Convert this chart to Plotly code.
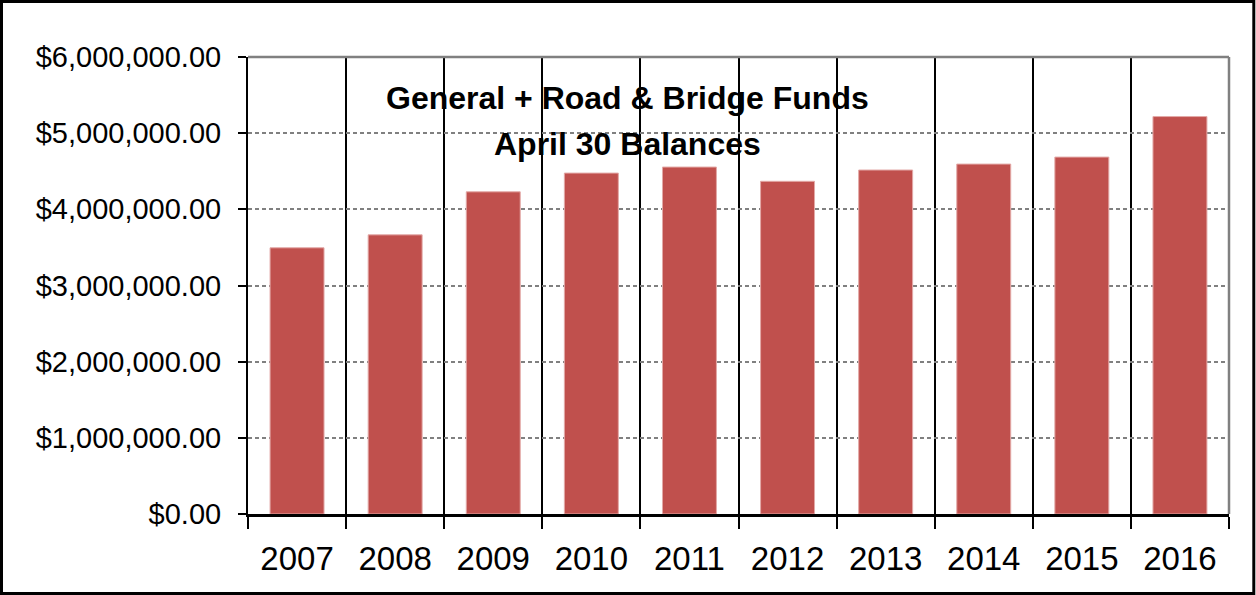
import plotly.graph_objects as go

years = ["2007", "2008", "2009", "2010", "2011", "2012", "2013", "2014", "2015", "2016"]
balances = [3495000, 3665000, 4230000, 4476000, 4555000, 4368000, 4516000, 4594000, 4686000, 5218000]
title_line1 = "General + Road & Bridge Funds"
title_line2 = "April 30 Balances"

W, H = 1256, 595
L, R, T, B = 248, 27, 57, 81
PW, PH = W - L - R, H - T - B


def px_x(p):
    return (p - L) / PW


def px_y(p):
    return (H - B - p) / PH


fig = go.Figure()
fig.add_trace(go.Bar(
    x=years, y=balances,
    marker=dict(color="#C0504D", line=dict(color="#E3A9A7", width=1)),
    hoverinfo="x+y",
))

font_family = "Liberation Sans, Arial, sans-serif"

fig.update_layout(
    width=W, height=H,
    margin=dict(l=L, r=R, t=T, b=B, pad=0),
    paper_bgcolor="white", plot_bgcolor="white",
    bargap=0.45,
    showlegend=False,
    font=dict(family=font_family, color="black"),
    xaxis=dict(
        type="category",
        tickson="boundaries",
        showgrid=True, gridcolor="black", gridwidth=2,
        showline=True, linecolor="black", linewidth=2.5,
        ticks="outside", ticklen=12, tickwidth=2, tickcolor="black",
        tickfont=dict(size=33, family=font_family, color="black"),
        ticklabelstandoff=14,
        range=[-0.5, 9.5],
    ),
    yaxis=dict(
        range=[0, 6000000], dtick=1000000,
        tickformat="$,.2f",
        showgrid=True, gridcolor="#808080", gridwidth=2, griddash="4px,3px",
        showline=True, linecolor="black", linewidth=2,
        ticks="outside", ticklen=8, tickwidth=2, tickcolor="black",
        tickfont=dict(size=29, family=font_family, color="black"),
        ticklabelstandoff=11,
        zeroline=False,
    ),
)

# gray top and right plot-area edges
fig.add_shape(type="line", xref="paper", yref="paper", x0=0, x1=1, y0=1, y1=1,
              line=dict(color="#808080", width=2.5), layer="above")
fig.add_shape(type="line", xref="paper", yref="paper", x0=1, x1=1, y0=0, y1=1,
              line=dict(color="#808080", width=2.5), layer="above")
# outer frame of the chart
fig.add_shape(type="rect", xref="paper", yref="paper",
              x0=px_x(1.5), x1=px_x(1253.8), y0=px_y(593.5), y1=px_y(1.5),
              line=dict(color="black", width=3), layer="above")

fig.add_annotation(text=title_line1, xref="paper", yref="paper",
                   x=px_x(627.5), y=px_y(97.5), showarrow=False,
                   xanchor="center", yanchor="middle",
                   font=dict(size=32, family=font_family, color="black", weight="bold"))
fig.add_annotation(text=title_line2, xref="paper", yref="paper",
                   x=px_x(627.5), y=px_y(143.5), showarrow=False,
                   xanchor="center", yanchor="middle",
                   font=dict(size=32, family=font_family, color="black", weight="bold"))

fig.write_html(
    "out.html",
    config={"displayModeBar": False},
    post_script="document.body.style.margin='0';document.body.style.overflow='hidden';",
)
